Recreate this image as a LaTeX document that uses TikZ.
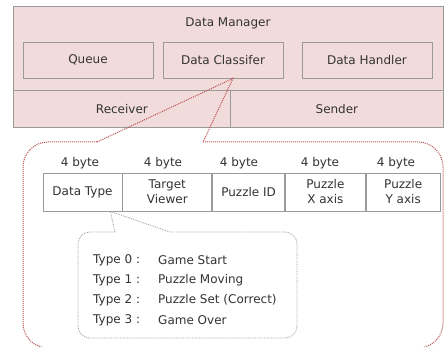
\documentclass[tikz,border=0pt]{standalone}
\usepackage{fontspec}
\setmainfont{DejaVu Sans}
\definecolor{pinkfill}{HTML}{F2DCDB}
\definecolor{edgegray}{HTML}{9A9A9A}
\definecolor{calloutred}{HTML}{B94F4F}
\definecolor{calloutgray}{HTML}{999999}
\definecolor{textgray}{HTML}{333333}
\begin{document}
\begin{tikzpicture}[x=1pt,y=-1pt,
  every node/.style={font=\fontsize{12}{15}\selectfont, text=textgray, inner sep=0pt},
  plainbox/.style={draw=edgegray, line width=0.8pt, fill=pinkfill, minimum height=36pt},
  region/.style={draw=edgegray, line width=0.8pt, fill=pinkfill, minimum height=37pt},
  cell/.style={draw=edgegray, line width=0.8pt, fill=white, minimum height=38pt, align=center},
  redcallout/.style={draw=calloutred, line width=1pt, densely dotted},
  graycallout/.style={draw=calloutgray, line width=0.8pt, densely dotted},
]
\useasboundingbox (0,0) rectangle (444,347);
\fill[white] (0,0) rectangle (444,347);

% Data Manager block
\node[region, minimum width=430pt, minimum height=121pt, anchor=north west] (dm) at (13,6) {};
\node (dmtitle) at (228,23) {Data Manager};
\node[region, minimum width=217pt, anchor=north west] (recv) at (13,90) {Receiver};
\node[region, minimum width=213pt, anchor=north west] (send) at (230,90) {Sender};
\node[plainbox, minimum width=130pt] (queue) at (88,60) {Queue};
\node[plainbox, minimum width=120pt] (dc) at (223,60) {Data Classifer};
\node[plainbox, minimum width=130pt] (dh) at (367,60) {Data Handler};

% outer callout
\coordinate (tipA) at ([xshift=10pt]dc.south);
\coordinate (oA) at (97,142);
\coordinate (oB) at (203,142);
\draw[redcallout, rounded corners=25pt] (oA) -- (23,142) -- (23,348) -- (443,348) -- (443,142) -- (oB);
\draw[redcallout] (oA) -- (tipA) -- (oB);

% packet table
\node[cell, minimum width=79pt] (c1) at (82.5,192) {Data Type};
\node[cell, minimum width=89pt, anchor=west] (c2) at (c1.east) {Target\\Viewer};
\node[cell, minimum width=72pt, anchor=west] (c3) at (c2.east) {Puzzle ID};
\node[cell, minimum width=80pt, anchor=west] (c4) at (c3.east) {Puzzle\\X axis};
\node[cell, minimum width=74pt, anchor=west] (c5) at (c4.east) {Puzzle\\Y axis};
\node (b1) at (80,163) {4 byte};
\node (b2) at (163,163) {4 byte};
\node (b3) at (239,163) {4 byte};
\node (b4) at (320,163) {4 byte};
\node (b5) at (396,163) {4 byte};

% inner callout
\coordinate (tipB) at ([xshift=-12pt]c1.south east);
\coordinate (iA) at (115,232);
\coordinate (iB) at (170,232);
\draw[graycallout, rounded corners=12pt] (iA) -- (78,232) -- (78,338) -- (297,338) -- (297,232) -- (iB);
\draw[graycallout] (iA) -- (tipB) -- (iB);

\node[anchor=west] (t0) at (93,260) {Type 0 :};
\node[anchor=west] (d0) at (158,260) {Game Start};
\node[anchor=west] (t1) at (93,280) {Type 1 :};
\node[anchor=west] (d1) at (158,280) {Puzzle Moving};
\node[anchor=west] (t2) at (93,300) {Type 2 :};
\node[anchor=west] (d2) at (158,300) {Puzzle Set (Correct)};
\node[anchor=west] (t3) at (93,320) {Type 3 :};
\node[anchor=west] (d3) at (158,320) {Game Over};
\end{tikzpicture}
\end{document}
